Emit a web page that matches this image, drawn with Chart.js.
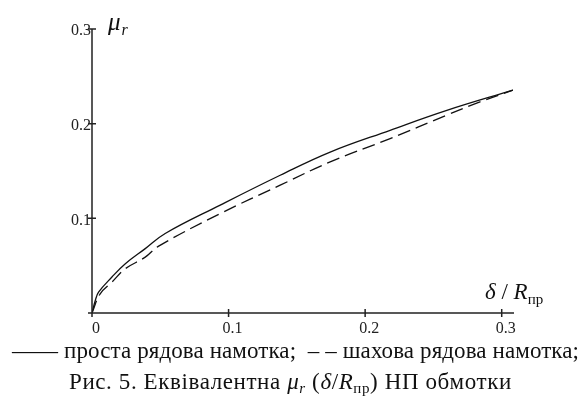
<!DOCTYPE html>
<html>
<head>
<meta charset="utf-8">
<script src="https://cdn.jsdelivr.net/npm/chart.js@4.4.0/dist/chart.umd.min.js"></script>
<style>
  html, body { margin: 0; padding: 0; background: #fff; }
  #wrap { position: relative; width: 588px; height: 397px; overflow: hidden; }
  canvas { position: absolute; left: 0; top: 0; }
  .t { position: absolute; font-family: "Liberation Serif", "Times New Roman", serif; color: #111; white-space: nowrap; line-height: 1; }
  .sub { position: relative; }
</style>
</head>
<body>
<div id="wrap">
  <canvas id="chart" width="588" height="397"></canvas>

  <!-- axis titles -->
  <div class="t" style="left:108px; top:9px; font-size:25px;"><i>μ</i><i class="sub" style="font-size:16px; top:5px; left:1px;">r</i></div>
  <div class="t" style="left:485px; top:280px; font-size:23px;"><i>δ</i> / <i>R</i><span class="sub" style="font-size:15px; top:5px;">пр</span></div>

  <!-- legend and caption -->
  <div class="t" style="left:12px; top:339px; font-size:23px; letter-spacing:0.1px;">—— проста рядова намотка;&nbsp; – – шахова рядова намотка;</div>
  <div class="t" style="left:69px; top:370px; font-size:23px; letter-spacing:0.6px;">Рис. 5. Еквівалентна <i>μ<span class="sub" style="font-size:15px; top:4px;">r</span></i> (<i>δ</i>/<i>R</i><span class="sub" style="font-size:15px; top:4px;">пр</span>) НП обмотки</div>
</div>

<script>
// curve: simple row winding (solid)
const simpleX = [0, 0.0024, 0.0048, 0.0146, 0.0244, 0.039, 0.0536, 0.0939, 0.1378, 0.1744, 0.2183, 0.2598, 0.3082];
const simpleY = [0, 0.0132, 0.022, 0.038, 0.052, 0.068, 0.084, 0.114, 0.1455, 0.170, 0.193, 0.214, 0.2354];

// chess row winding (dashed)
const chessX = [0, 0.006, 0.0146, 0.0244, 0.039, 0.0485, 0.0939, 0.1378, 0.1744, 0.2183, 0.2598, 0.2841, 0.3082];
const chessY = [0, 0.0203, 0.0326, 0.0468, 0.059, 0.0704, 0.1050, 0.135, 0.1596, 0.1843, 0.209, 0.223, 0.2354];

const xTicks = [0, 0.1, 0.2, 0.3];
const yTicks = [0, 0.1, 0.2, 0.3];

const toPoints = (xs, ys) => xs.map((x, i) => ({ x: x, y: ys[i] }));

// axes drawn through the scales, with tick marks crossing the axis line
const crossAxes = {
  id: "crossAxes",
  afterDraw(chart) {
    const { ctx, scales: { x, y } } = chart;
    const x0 = x.getPixelForValue(0);
    const y0 = y.getPixelForValue(0);
    ctx.save();
    ctx.strokeStyle = "#222";
    ctx.lineWidth = 1.5;
    ctx.beginPath();
    ctx.moveTo(x0, y.getPixelForValue(yTicks[yTicks.length - 1]));
    ctx.lineTo(x0, y0);
    ctx.moveTo(x0, y0);
    ctx.lineTo(x.right, y0);
    xTicks.forEach(v => {
      const px = x.getPixelForValue(v);
      ctx.moveTo(px, y0 - 4);
      ctx.lineTo(px, y0 + 4);
    });
    yTicks.forEach(v => {
      const py = y.getPixelForValue(v);
      ctx.moveTo(x0 - 4, py);
      ctx.lineTo(x0 + 4, py);
    });
    ctx.stroke();
    ctx.restore();
  }
};

new Chart(document.getElementById("chart").getContext("2d"), {
  type: "scatter",
  data: {
    datasets: [
      {
        label: "проста рядова намотка",
        data: toPoints(simpleX, simpleY),
        showLine: true,
        borderColor: "#111",
        borderWidth: 1.3,
        pointRadius: 0,
        tension: 0.4
      },
      {
        label: "шахова рядова намотка",
        data: toPoints(chessX, chessY),
        showLine: true,
        borderColor: "#111",
        borderWidth: 1.3,
        borderDash: [13, 6],
        pointRadius: 0,
        tension: 0.4
      }
    ]
  },
  options: {
    responsive: false,
    animation: false,
    devicePixelRatio: 1,
    layout: { padding: { top: 29, right: 74, left: 0, bottom: 0 } },
    plugins: {
      legend: { display: false },
      tooltip: { enabled: false }
    },
    scales: {
      x: {
        type: "linear",
        min: 0,
        max: 0.309,
        afterFit: s => { s.height = 84; },
        afterBuildTicks: s => { s.ticks = xTicks.map(v => ({ value: v })); },
        grid: { display: false, drawTicks: false },
        border: { display: false },
        ticks: {
          padding: 6,
          labelOffset: 4,
          color: "#222",
          font: { family: "Liberation Serif", size: 16 },
          callback: v => (v === 0 ? "0" : v.toFixed(1))
        }
      },
      y: {
        type: "linear",
        min: 0,
        max: 0.3,
        afterFit: s => { s.width = 92; },
        afterBuildTicks: s => { s.ticks = yTicks.map(v => ({ value: v })); },
        grid: { display: false, drawTicks: false },
        border: { display: false },
        ticks: {
          padding: 1,
          labelOffset: 2,
          color: "#222",
          font: { family: "Liberation Serif", size: 16 },
          callback: v => (v === 0 ? "" : v.toFixed(1))
        }
      }
    }
  },
  plugins: [crossAxes]
});
</script>
</body>
</html>
